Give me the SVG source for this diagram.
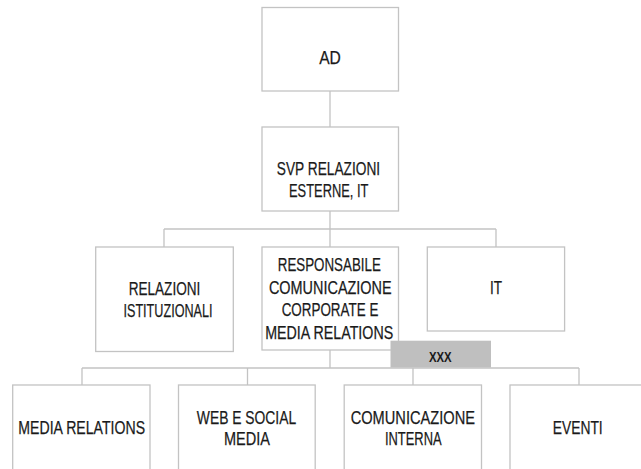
<svg xmlns="http://www.w3.org/2000/svg" width="641" height="469" viewBox="0 0 641 469">
<style>
.box{fill:#ffffff;stroke:#c3c3c3;stroke-width:1.3}
.con{fill:none;stroke:#c3c3c3;stroke-width:1.3}
.t{font-family:"Liberation Sans",Arial,sans-serif;font-size:19px;fill:#1a1a1a;stroke:#1a1a1a;stroke-width:0.25;text-anchor:middle}
.tag{fill:#bfbfbf;stroke:none}
.tb{font-family:"Liberation Sans",Arial,sans-serif;font-size:15px;font-weight:bold;fill:#1a1a1a;text-anchor:middle}
</style>
<rect width="641" height="469" fill="#ffffff"/>
<g id="connectors">
<path class="con" d="M330 91V127"/>
<path class="con" d="M330 211V229M164 229H496M164 229V247M330 229V247M496 229V247"/>
<path class="con" d="M330 350V368M82 368H579M82 368V385M247.5 368V385M413 368V385M579 368V385"/>
</g>
<g id="n-ad">
<rect class="box" x="262" y="7.5" width="136.5" height="83.5"/>
<text class="t" x="330" y="63.5" textLength="21.7" lengthAdjust="spacingAndGlyphs">AD</text>
</g>
<g id="n-svp">
<rect class="box" x="262" y="127" width="136.5" height="84"/>
<text class="t" x="328.5" y="175.2" textLength="103.3" lengthAdjust="spacingAndGlyphs">SVP RELAZIONI</text>
<text class="t" x="328.7" y="196.9" textLength="79.3" lengthAdjust="spacingAndGlyphs">ESTERNE, IT</text>
</g>
<g id="n-rel">
<rect class="box" x="95.7" y="247" width="137.6" height="104.5"/>
<text class="t" x="164.5" y="295.2" textLength="71.7" lengthAdjust="spacingAndGlyphs">RELAZIONI</text>
<text class="t" x="168" y="316.9" textLength="89" lengthAdjust="spacingAndGlyphs">ISTITUZIONALI</text>
</g>
<g id="n-resp">
<rect class="box" x="262" y="247" width="136.5" height="103"/>
<text class="t" x="329.3" y="270.9" textLength="103" lengthAdjust="spacingAndGlyphs">RESPONSABILE</text>
<text class="t" x="330.3" y="293.5" textLength="122.7" lengthAdjust="spacingAndGlyphs">COMUNICAZIONE</text>
<text class="t" x="330" y="316.2" textLength="96.7" lengthAdjust="spacingAndGlyphs">CORPORATE E</text>
<text class="t" x="329.2" y="338.9" textLength="128" lengthAdjust="spacingAndGlyphs">MEDIA RELATIONS</text>
</g>
<g id="n-it">
<rect class="box" x="427.3" y="247" width="137.3" height="84"/>
<text class="t" x="496" y="294.2" textLength="12" lengthAdjust="spacingAndGlyphs">IT</text>
</g>
<g id="n-xxx">
<rect class="tag" x="390.5" y="340.7" width="100.5" height="26.8"/>
<text class="tb" x="440.3" y="361.5" textLength="22.7" lengthAdjust="spacingAndGlyphs">XXX</text>
</g>
<g id="n-media">
<rect class="box" x="12.7" y="385" width="137.3" height="95"/>
<text class="t" x="81.7" y="434.2" textLength="126.7" lengthAdjust="spacingAndGlyphs">MEDIA RELATIONS</text>
</g>
<g id="n-web">
<rect class="box" x="178.5" y="385" width="136.7" height="95"/>
<text class="t" x="246.5" y="423.5" textLength="99.3" lengthAdjust="spacingAndGlyphs">WEB E SOCIAL</text>
<text class="t" x="247" y="444.9" textLength="46" lengthAdjust="spacingAndGlyphs">MEDIA</text>
</g>
<g id="n-com">
<rect class="box" x="344.2" y="385" width="137.3" height="95"/>
<text class="t" x="412.8" y="424.2" textLength="124.3" lengthAdjust="spacingAndGlyphs">COMUNICAZIONE</text>
<text class="t" x="413.3" y="445.2" textLength="56.7" lengthAdjust="spacingAndGlyphs">INTERNA</text>
</g>
<g id="n-eventi">
<rect class="box" x="510" y="385" width="150" height="95"/>
<text class="t" x="577.7" y="434.2" textLength="50" lengthAdjust="spacingAndGlyphs">EVENTI</text>
</g>
</svg>
